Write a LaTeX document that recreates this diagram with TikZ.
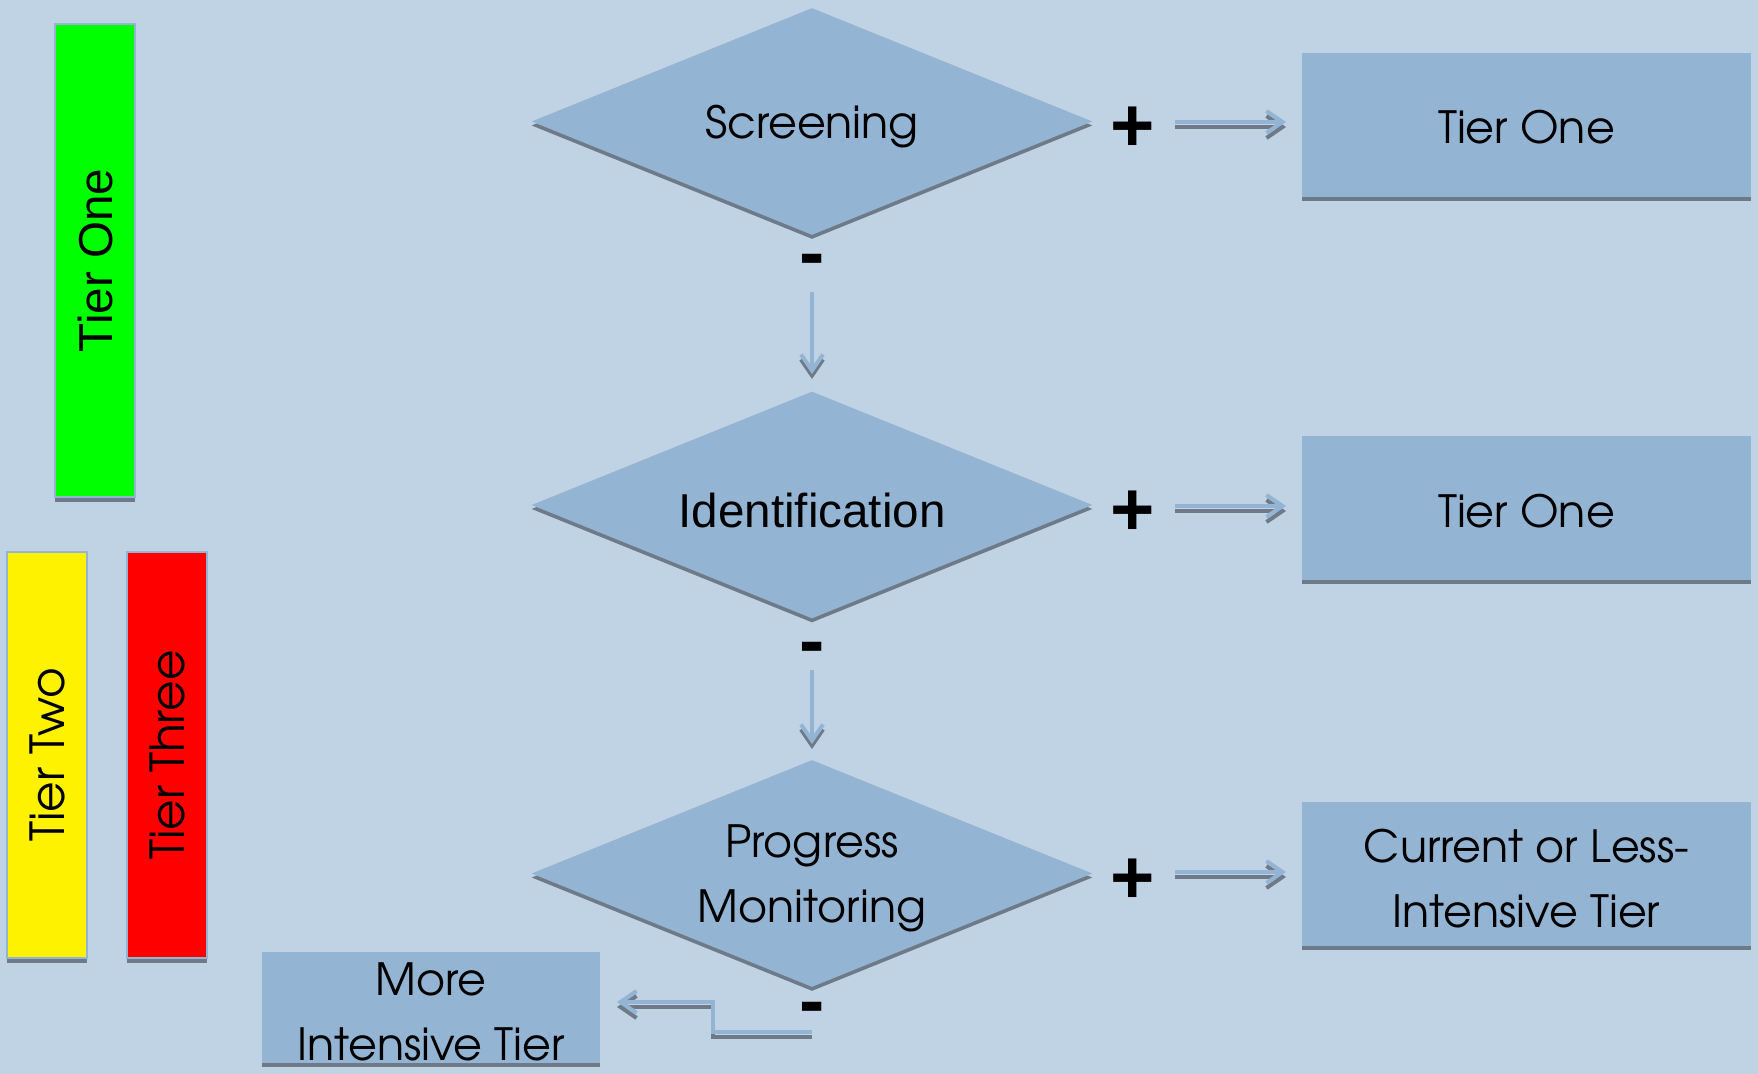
\documentclass[tikz,border=0pt]{standalone}
\usepackage{fontspec}
\setmainfont{Liberation Sans}
\newfontfamily\gothic{TeX Gyre Adventor}
\newcommand\tallstrut[1]{\rule{0pt}{#1}}
\usetikzlibrary{shapes.geometric,arrows.meta,shadows}
\definecolor{bg}{HTML}{C0D3E4}
\definecolor{fillb}{HTML}{93B4D3}
\definecolor{shad}{HTML}{6E7A87}
\begin{document}
\begin{tikzpicture}[x=0.5pt,y=-0.5pt,
  shd/.style={drop shadow={shadow xshift=0pt,shadow yshift=-2pt,fill=shad,opacity=1}},
  gfont/.style={font=\gothic\fontsize{22.2}{32.5}\selectfont},
  dia/.style={diamond,aspect=2.47,fill=fillb,minimum width=280.5pt,minimum height=113.5pt,inner sep=0pt,shd,
    gfont,align=center},
  box/.style={rectangle,fill=fillb,inner sep=0pt,minimum width=224.5pt,minimum height=72pt,shd,
    gfont,align=center},
  bar/.style={rectangle,draw=fillb,line width=0.75pt,inner sep=0pt,minimum width=40pt,
    drop shadow={shadow xshift=0pt,shadow yshift=-2.5pt,fill=shad,opacity=1}},
  sign/.style={font=\bfseries\fontsize{38}{40}\selectfont,inner sep=0pt},
  conn/.style={draw=fillb,line width=2pt,-{Straight Barb[length=8pt,width=11pt]}},
  connsh/.style={conn,draw=shad,transform canvas={yshift=-2.5pt}}]
\fill[bg] (0,0) rectangle (1758,1074);
\useasboundingbox (0,0) rectangle (1758,1074);

% tier bars
\node[bar,fill=green,minimum height=236.5pt,
  label={[rotate=90,font=\fontsize{23.8}{26}\selectfont]center:Tier One}] (barone) at (95,260.5) {};
\node[bar,fill=yellow,minimum height=203pt,
  label={[rotate=90,font=\gothic\fontsize{23.5}{26}\selectfont]center:Tier Two}] (bartwo) at (47,755) {};
\node[bar,fill=red,minimum height=203pt,
  label={[rotate=90,font=\gothic\fontsize{23.5}{26}\selectfont]center:Tier Three}] (barthree) at (167,755) {};

% diamonds
\node[dia,text depth=0pt] (scr) at (812,121.5) {Screening};
\node[dia,font=\fontsize{23.8}{28}\selectfont,text height=23pt,text depth=0pt] (idf) at (812,505) {Identification};
\node[dia] (prog) at (812,873.5) {Progress\\Monitorin\smash{g}};

% boxes
\node[box,text height=18.8pt,text depth=0pt] (b1) at (1526.5,125) {Tier One};
\node[box,text height=18.8pt,text depth=0pt] (b2) at (1526.5,508.5) {Tier One};
\node[box] (b3) at (1526.5,874) {\tallstrut{21pt}Current or Less-\\Intensive Tier};
\node[box,minimum width=169pt,minimum height=55.5pt] (b4) at (431,1007.5) {\tallstrut{21pt}More\\Intensive Tier};

% signs
\node[sign] (p1) at (1133,129) {+};
\node[sign] (p2) at (1133,513) {+};
\node[sign] (p3) at (1133,881) {+};
\node[sign] (m1) at (812,266) {-};
\node[sign] (m2) at (812,654) {-};
\node[sign] (m3) at (812,1014) {-};

% connector end points
\coordinate (h1s) at (1175,122); \coordinate (h1e) at (1286,122);
\coordinate (h2s) at (1175,506); \coordinate (h2e) at (1286,506);
\coordinate (h3s) at (1175,872); \coordinate (h3e) at (1286,872);
\coordinate (v1s) at (812,292); \coordinate (v1e) at (812,374);
\coordinate (v2s) at (812,670); \coordinate (v2e) at (812,744);
\coordinate (es) at (812,1032); \coordinate (ee) at (617,1002);

\foreach \a/\b in {h1s/h1e,h2s/h2e,h3s/h3e,v1s/v1e,v2s/v2e}{
  \draw[connsh] (\a) -- (\b);
  \draw[conn] (\a) -- (\b);
}
\draw[connsh] (es) -| (713,1017) |- (ee);
\draw[conn] (es) -| (713,1017) |- (ee);
\end{tikzpicture}
\end{document}
